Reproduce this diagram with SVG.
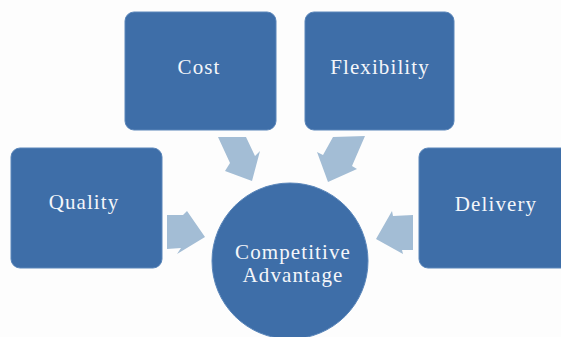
<svg xmlns="http://www.w3.org/2000/svg" width="561" height="337" viewBox="0 0 561 337">
<style>
.box{fill:#3e6ea8;stroke:#5a86ba;stroke-width:1}
.lbl{font-family:"Liberation Serif","Times New Roman",serif;font-size:21px;fill:#f4f6fa;text-anchor:middle;letter-spacing:1.1px}
.arr{fill:#a3bdd5}
</style>
<rect width="561" height="337" fill="#fdfdfd"/>
<g id="connectors">
<polygon class="arr" points="218,137 246,137 255,156 260,151 252,181 225,171 230,163"/>
<polygon class="arr" points="333,137 365,136 352,166 357,169 328,182 317,152 323,155"/>
<polygon class="arr" points="167,215 183,215 187,211 205,237 177,254 181,248 167,249"/>
<polygon class="arr" points="413,215 393,216 392,211 376,239 403,254 402,250 413,250"/>
</g>
<g id="cost"><rect class="box" x="125" y="12" width="151" height="118" rx="9"/><text class="lbl" x="199" y="74">Cost</text></g>
<g id="flexibility"><rect class="box" x="305" y="12" width="149" height="118" rx="9"/><text class="lbl" x="380" y="74">Flexibility</text></g>
<g id="quality"><rect class="box" x="11" y="148" width="151" height="120" rx="9"/><text class="lbl" x="84" y="209">Quality</text></g>
<g id="delivery"><rect class="box" x="419" y="148" width="160" height="120" rx="9"/><text class="lbl" x="496" y="211">Delivery</text></g>
<g id="competitive-advantage"><circle class="box" cx="290" cy="261" r="78"/><text class="lbl" x="293" y="259">Competitive</text><text class="lbl" x="293" y="282">Advantage</text></g>
</svg>
